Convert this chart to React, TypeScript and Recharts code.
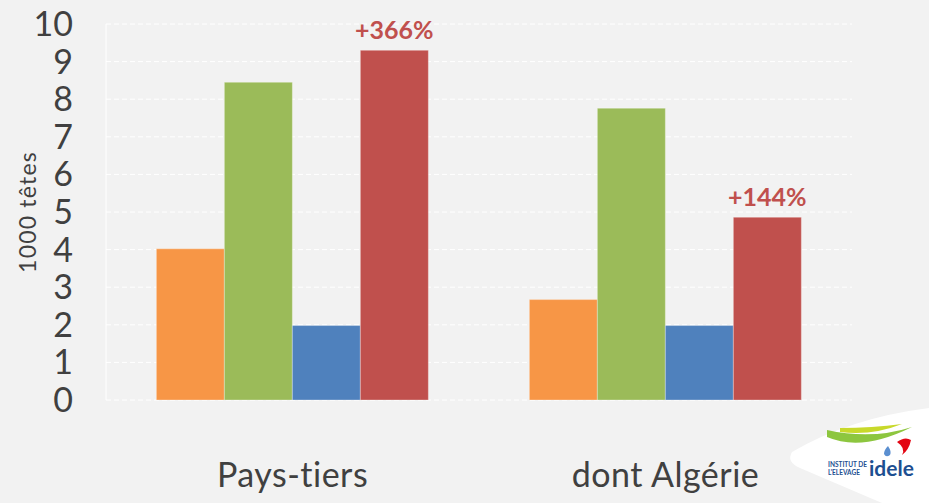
import { BarChart, Bar, XAxis, YAxis, CartesianGrid, LabelList } from 'recharts'

const categories = ['Pays-tiers', 'dont Algérie']
const orange = [4.02, 2.67]
const green = [8.45, 7.76]
const blue = [1.98, 1.98]
const red = [9.3, 4.86]
const redLabels = ['+366%', '+144%']
const yTicks = [0, 1, 2, 3, 4, 5, 6, 7, 8, 9, 10]

const data = categories.map((name, i) => ({
  name,
  orange: orange[i],
  green: green[i],
  blue: blue[i],
  red: red[i],
  label: redLabels[i],
}))

const font = 'Lato, "Open Sans", sans-serif'

function CategoryTick(props: any) {
  const { x, y, payload } = props
  return (
    <text x={x} y={y + 87} textAnchor="middle" fill="#404040" fontSize={34} letterSpacing={0.5} fontFamily={font}>
      {payload.value}
    </text>
  )
}

function Logo() {
  return (
    <svg width={929} height={503} style={{ position: 'absolute', left: 0, top: 0, pointerEvents: 'none' }}>
      <path d="M 792 452 Q 786 462 800 468 L 882 503 L 929 503 L 929 408 Q 850 418 792 452 Z" fill="#ffffff" />
      <path d="M 827 437 Q 862 452 912 427 Q 872 440 827 430 Z" fill="#8dc63f" />
      <path d="M 840 432 Q 872 436 902 424 Q 872 428 840 428 Z" fill="#c8d92b" />
      <path d="M 897 442 Q 905 436 911 440 Q 909 450 902 455 Q 906 448 897 442 Z" fill="#e30613" />
      <path d="M 888 446 Q 892 452 890 455 Q 886 458 884 454 Q 884 450 888 446 Z" fill="#5b8fd0" />
      <text x={828} y={467} fontSize={6.5} fontWeight="bold" fill="#1d4f91" fontFamily={font}>INSTITUT DE</text>
      <text x={828} y={475} fontSize={6.5} fontWeight="bold" fill="#1d4f91" fontFamily={font}>L'ELEVAGE</text>
      <text x={869} y={476} fontSize={21} fontWeight="bold" fill="#1d4f91" fontFamily={font}>idele</text>
    </svg>
  )
}

function YLabel(props: any) {
  const { viewBox } = props
  const cy = viewBox.y + viewBox.height / 2
  return (
    <text
      x={27}
      y={cy}
      transform={`rotate(-90, 27, ${cy})`}
      textAnchor="middle"
      dominantBaseline="central"
      fill="#404040"
      fontSize={23}
      letterSpacing={1.2}
      fontFamily={font}
    >
      1000 têtes
    </text>
  )
}

export default function App() {
  return (
    <div style={{ position: 'absolute', left: 0, top: 0, width: 929, height: 503, background: '#f2f2f2' }}>
      <BarChart
        width={929}
        height={503}
        data={data}
        margin={{ top: 24, right: 77, bottom: 0, left: 0 }}
        barCategoryGap="13.5%"
        barGap={0}
      >
        <CartesianGrid vertical={false} stroke="#ffffff" strokeDasharray="5 3" />
        <XAxis
          xAxisId="bounds"
          type="number"
          domain={[0, 2]}
          ticks={[0, 1, 2]}
          allowDataOverflow
          height={0}
          tick={false}
          tickSize={12}
          axisLine={{ stroke: '#ffffff' }}
          tickLine={{ stroke: '#ffffff' }}
        />
        <XAxis
          xAxisId="cat"
          dataKey="name"
          height={103}
          axisLine={false}
          tickLine={false}
          tickSize={0}
          tickMargin={0}
          tick={<CategoryTick />}
        />
        <YAxis
          width={106}
          domain={[0, 10]}
          ticks={yTicks}
          interval={0}
          axisLine={{ stroke: '#ffffff' }}
          tickLine={false}
          tickSize={0}
          tickMargin={33}
          tick={{ fill: '#404040', fontSize: 34, fontFamily: font }}
          label={<YLabel />}
        />
        <Bar xAxisId="cat" dataKey="orange" fill="#f79646" stroke="#ffffff" strokeOpacity={0.3} isAnimationActive={false} />
        <Bar xAxisId="cat" dataKey="green" fill="#9bbb59" stroke="#ffffff" strokeOpacity={0.3} isAnimationActive={false} />
        <Bar xAxisId="cat" dataKey="blue" fill="#4f81bd" stroke="#ffffff" strokeOpacity={0.3} isAnimationActive={false} />
        <Bar xAxisId="cat" dataKey="red" fill="#c0504d" stroke="#ffffff" strokeOpacity={0.3} isAnimationActive={false}>
          <LabelList
            dataKey="label"
            position="top"
            offset={11}
            fill="#c0504d"
            fontSize={25}
            fontWeight="bold"
            fontFamily={font}
          />
        </Bar>
      </BarChart>
      <Logo />
    </div>
  )
}
